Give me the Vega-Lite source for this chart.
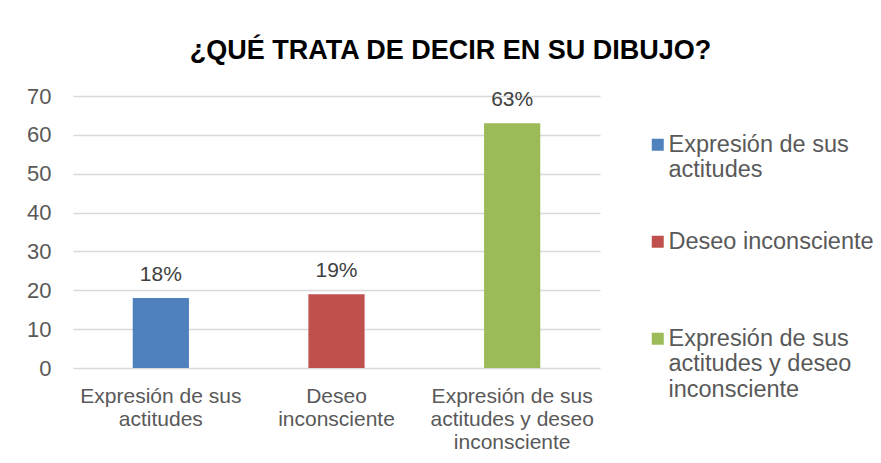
{
  "$schema": "https://vega.github.io/schema/vega-lite/v6.json",
  "autosize": "none",
  "width": 527,
  "height": 272,
  "padding": {"left": 73, "top": 96, "right": 281, "bottom": 95},
  "background": "white",
  "title": {
    "text": "¿QUÉ TRATA DE DECIR EN SU DIBUJO?",
    "font": "Liberation Sans",
    "fontSize": 27,
    "fontWeight": "bold",
    "color": "#000000",
    "anchor": "middle",
    "frame": "group",
    "dx": 114,
    "baseline": "alphabetic",
    "offset": -1
  },
  "data": {
    "values": [
      {"cat": "Expresión de sus actitudes", "value": 18, "label": "18%"},
      {"cat": "Deseo inconsciente", "value": 19, "label": "19%"},
      {"cat": "Expresión de sus actitudes y deseo inconsciente", "value": 63, "label": "63%"}
    ]
  },
  "encoding": {
    "x": {
      "field": "cat",
      "type": "nominal",
      "sort": null,
      "scale": {"paddingInner": 0.68, "paddingOuter": 0.34},
      "axis": {
        "title": null,
        "labelAngle": 0,
        "domain": false,
        "ticks": false,
        "labelFont": "Liberation Sans",
        "labelFontSize": 21,
        "labelColor": "#595959",
        "labelPadding": 17,
        "labelLineHeight": 23,
        "labelExpr": "datum.value == 'Deseo inconsciente' ? ['Deseo','inconsciente'] : datum.value == 'Expresión de sus actitudes' ? ['Expresión de sus','actitudes'] : ['Expresión de sus','actitudes y deseo','inconsciente']"
      }
    },
    "y": {
      "field": "value",
      "type": "quantitative",
      "scale": {"domain": [0, 70]},
      "axis": {
        "title": null,
        "values": [0, 10, 20, 30, 40, 50, 60, 70],
        "domain": false,
        "ticks": false,
        "grid": true,
        "gridColor": "#d9d9d9",
        "gridWidth": 1.3,
        "labelFont": "Liberation Sans",
        "labelFontSize": 22,
        "labelColor": "#595959",
        "labelPadding": 22
      }
    }
  },
  "layer": [
    {
      "mark": {"type": "bar"},
      "encoding": {
        "color": {
          "field": "cat",
          "type": "nominal",
          "sort": null,
          "scale": {"range": ["#4F81BD", "#C0504D", "#9BBB59"]},
          "legend": {
            "title": null,
            "orient": "none",
            "legendX": 573,
            "legendY": 37,
            "symbolType": "square",
            "symbolSize": 144,
            "symbolStrokeWidth": 0,
            "labelFont": "Liberation Sans",
            "labelFontSize": 23.5,
            "labelColor": "#595959",
            "labelOffset": -1,
            "labelLimit": 300,
            "labelBaseline": "middle",
            "labelLineHeight": 28,
            "rowPadding": 47,
            "labelExpr": "datum.value == 'Deseo inconsciente' ? ['Deseo inconsciente', ' '] : datum.value == 'Expresión de sus actitudes' ? ['Expresión de sus','actitudes'] : ['Expresión de sus','actitudes y deseo','inconsciente']"
          }
        }
      }
    },
    {
      "mark": {
        "type": "text",
        "baseline": "alphabetic",
        "dy": -17,
        "font": "Liberation Sans",
        "fontSize": 21,
        "color": "#404040"
      },
      "encoding": {
        "text": {"field": "label"}
      }
    }
  ],
  "config": {"view": {"stroke": null}}
}
